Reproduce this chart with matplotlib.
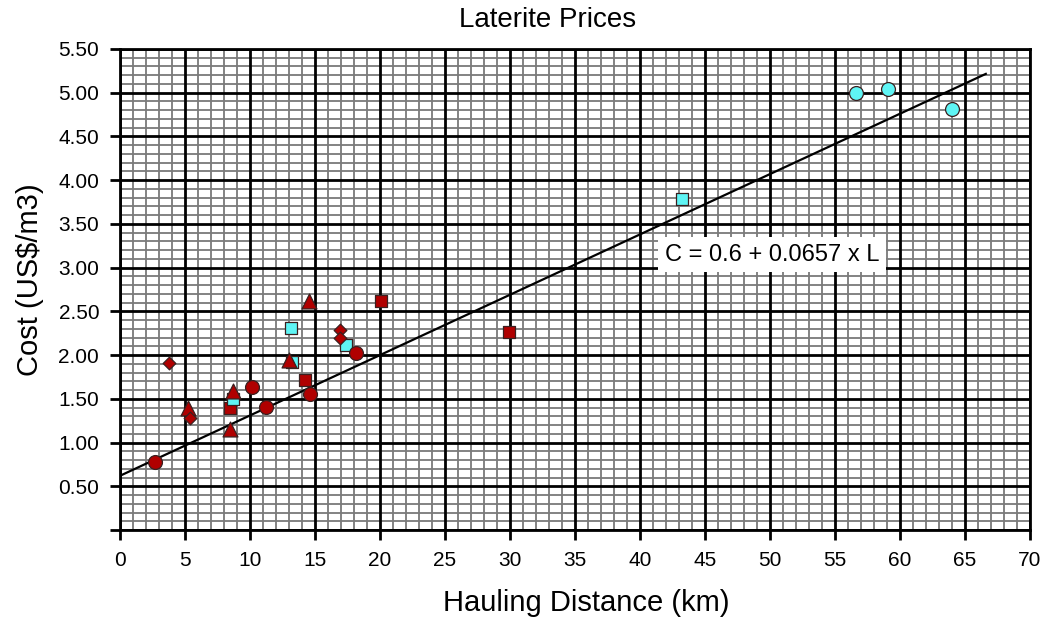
import numpy as np
import matplotlib
matplotlib.use('Agg')
import matplotlib.pyplot as plt

plt.rcParams['font.family'] = ['Liberation Sans', 'DejaVu Sans']

# Data (km, US$/m3)
red_circle_x = [2.7, 10.15, 11.2, 14.65, 18.15]
red_circle_y = [0.78, 1.64, 1.41, 1.55, 2.02]

red_square_x = [8.45, 14.25, 20.1, 29.95]
red_square_y = [1.39, 1.72, 2.62, 2.26]

red_triangle_x = [5.25, 8.7, 8.45, 13.0, 14.5]
red_triangle_y = [1.39, 1.59, 1.16, 1.94, 2.62]

red_diamond_x = [3.75, 5.4, 16.9, 16.9]
red_diamond_y = [1.91, 1.28, 2.29, 2.20]

cyan_square_x = [8.7, 13.15, 13.2, 17.4, 43.2]
cyan_square_y = [1.50, 2.31, 1.92, 2.11, 3.78]

cyan_circle_x = [56.6, 59.05, 64.0]
cyan_circle_y = [5.00, 5.04, 4.81]

# trend line as drawn
fit_intercept = 0.62
fit_slope = 0.069
fit_xmax = 66.6
fit_label = 'C = 0.6 + 0.0657 x L'

red = '#b00000'
cyan = '#5ff5f5'
edge = '#3a2020'

fig = plt.figure(figsize=(10.5, 6.23), dpi=100)
ax = fig.add_axes([120/1050, 1 - 530/623, 910/1050, 481/623])

ax.set_xlim(0, 70)
ax.set_ylim(0, 5.5)

xt = np.arange(0, 71, 5)
yt = np.arange(0, 5.51, 0.5)
ax.set_xticks(xt)
ax.set_yticks(yt)
ax.set_yticklabels(['' if v == 0 else '%.2f' % v for v in yt])

# graph-paper grid: grey 1 km / 0.1 lines, black major lines on top
minor_x = [v for v in np.arange(0, 70.01, 1) if round(v) % 5 != 0]
minor_y = [v for v in np.arange(0, 5.501, 0.1) if round(v * 10) % 5 != 0]
ax.vlines(minor_x, 0, 5.5, color='#7a7a7a', lw=1.3, zorder=0.2)
ax.hlines(minor_y, 0, 70, color='#7a7a7a', lw=1.3, zorder=0.2)
ax.vlines(xt, 0, 5.5, color='black', lw=2.0, zorder=0.5)
ax.hlines(yt, 0, 70, color='black', lw=2.0, zorder=0.5)

ax.tick_params(which='major', length=7, width=2, labelsize=15, pad=8)
for s in ax.spines.values():
    s.set_linewidth(2)

# fit line
lx = np.array([0, fit_xmax])
ax.plot(lx, fit_intercept + fit_slope * lx, color='black', lw=1.6, zorder=2)

kw = dict(edgecolors=edge, linewidths=0.9, zorder=3)
ax.scatter(red_square_x, red_square_y, marker='s', s=85, c=red, **kw)
ax.scatter(cyan_square_x, cyan_square_y, marker='s', s=85, c=cyan, **kw)
ax.scatter(cyan_circle_x, cyan_circle_y, marker='o', s=100, c=cyan, **kw)
ax.scatter(red_circle_x, red_circle_y, marker='o', s=100, c=red, **kw)
ax.scatter(red_triangle_x, red_triangle_y, marker='^', s=115, c=red, **kw)
ax.scatter(red_diamond_x, red_diamond_y, marker='D', s=42, c=red, **kw)

ax.text(50.15, 3.15, fit_label, fontsize=17, ha='center', va='center',
        bbox=dict(facecolor='white', edgecolor='none', pad=5), zorder=4)

fig.text(548/1050, 1 - 20/623, 'Laterite Prices', fontsize=20, ha='center', va='center')
fig.text(586/1050, 1 - 603/623, 'Hauling Distance (km)', fontsize=21, ha='center', va='center')
fig.text(30/1050, 1 - 280/623, 'Cost (US$/m3)', fontsize=21, ha='center', va='center',
         rotation=90)

fig.savefig('out.png', dpi=100)
